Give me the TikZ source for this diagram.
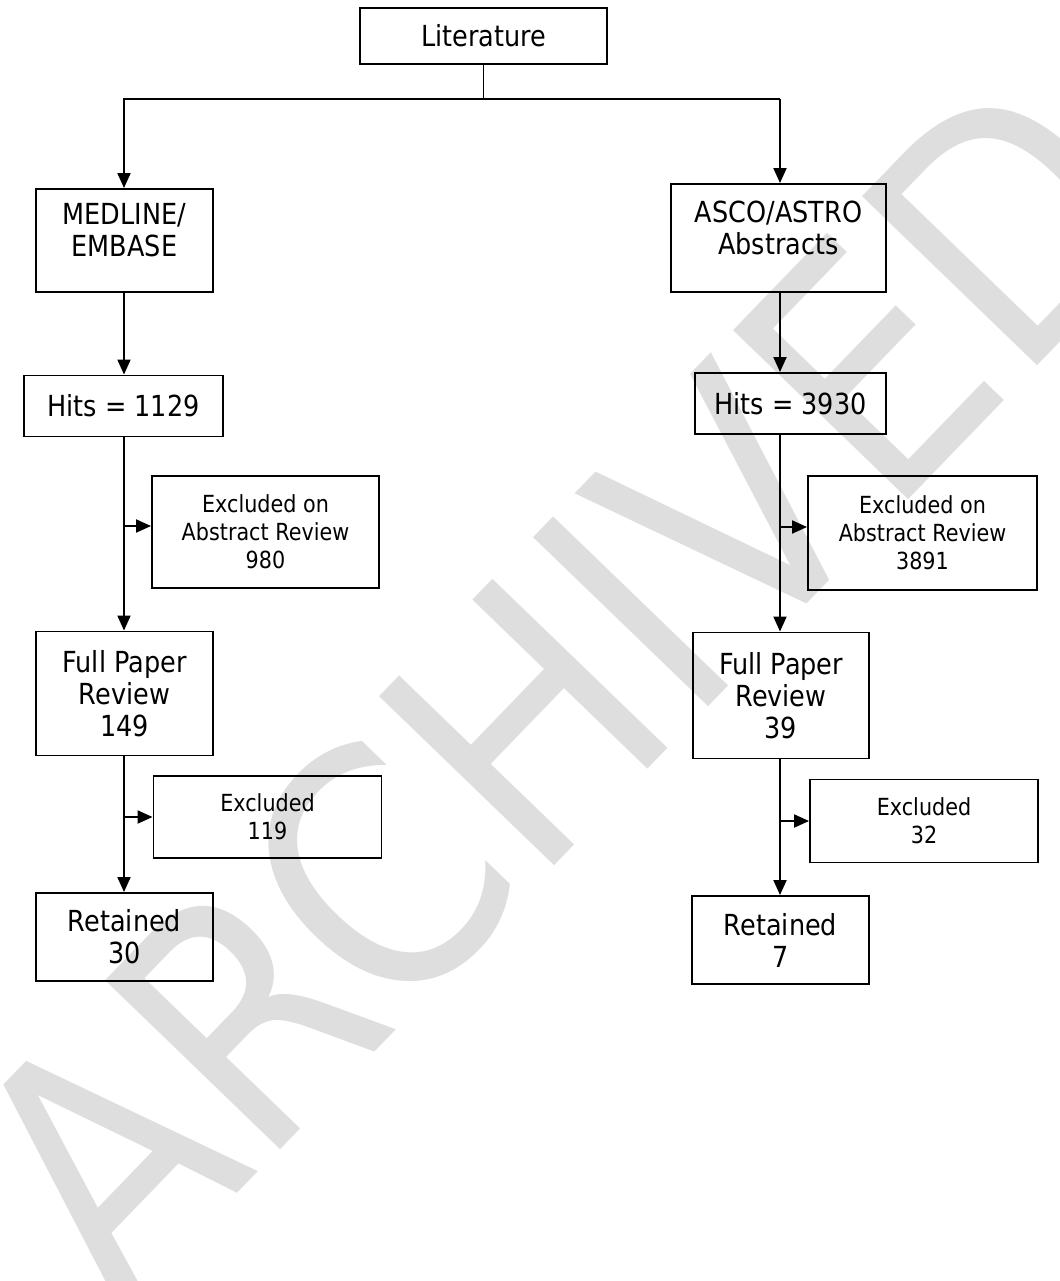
\documentclass[tikz,border=0pt]{standalone}
\usepackage{fontspec}
\setmainfont[FakeStretch=0.88]{DejaVu Sans}
\usepackage{tikz}
\usetikzlibrary{arrows.meta, positioning, calc}
\definecolor{grisMarca}{RGB}{222, 222, 222}

\begin{document}
\begin{tikzpicture}[
            texto/.style={align=center, font=\fontsize{16.5}{18.2}\selectfont},
            caja/.style={texto, rectangle, draw=black, line width=1.1pt, inner sep=0pt, minimum width=3.54cm},
            excl/.style={caja, minimum width=4.56cm, font=\fontsize{13.4}{15.9}\selectfont},
            flecha/.style={-{Triangle[length=0.3cm, width=0.26cm]}, line width=1.1pt}]

    \useasboundingbox (0,0) rectangle (21.2,-25.62);
    \clip (0,0) rectangle (21.2,-25.62);
    \node[rotate=46, text=grisMarca, font=\fontsize{190}{190}\selectfont] (marca) at (11.2,-13.7) {ARCHIVED};

    \node[caja, minimum width=4.94cm, minimum height=1.12cm] (lit) at (9.67,-0.72) {Literature};
    \node[caja, minimum height=2.06cm] (med) at (2.49,-4.81) {};
    \node[texto] (medtxt) at ([yshift=0.2cm]med.center) {MEDLINE/\\EMBASE};
    \node[caja, minimum width=4.30cm, minimum height=2.16cm] (asco) at (15.57,-4.76) {};
    \node[texto] (ascotxt) at ([yshift=0.2cm]asco.center) {ASCO/ASTRO\\Abstracts};
    \node[caja, minimum width=3.98cm, minimum height=1.22cm] (hitsA) at (2.47,-8.12) {Hits = 1129};
    \node[caja, minimum width=3.82cm, minimum height=1.22cm] (hitsB) at (15.81,-8.07) {Hits = 3930};
    \node[excl, minimum width=4.54cm, minimum height=2.24cm] (exA1) at (5.31,-10.64) {Excluded on\\Abstract Review\\980};
    \node[excl, minimum width=4.58cm, minimum height=2.28cm] (exB1) at (18.45,-10.66) {Excluded on\\Abstract Review\\3891};
    \node[caja, minimum height=2.48cm] (fullA) at (2.49,-13.87) {Full Paper\\Review\\149};
    \node[caja, minimum width=3.52cm, minimum height=2.52cm] (fullB) at (15.62,-13.91) {Full Paper\\Review\\39};
    \node[excl, minimum height=1.64cm] (exA2) at (5.35,-16.34) {Excluded\\119};
    \node[excl, minimum height=1.66cm] (exB2) at (18.48,-16.42) {Excluded\\32};
    \node[caja, minimum height=1.76cm] (retA) at (2.49,-18.74) {Retained\\30};
    \node[caja, minimum height=1.76cm] (retB) at (15.61,-18.80) {Retained\\7};

    \coordinate (izq) at (2.48,-1.98);
    \coordinate (der) at (15.60,-1.98);
    \coordinate (sA1) at ([yshift=0.12cm]exA1.west);
    \coordinate (sB1) at ([yshift=0.12cm]exB1.west);

    \draw[line width=1.1pt] (lit.south) -- (lit.south |- izq);
    \draw[flecha] (der) -- (izq) -- (izq |- med.north);
    \draw[flecha] (der) -- (der |- asco.north);
    \draw[flecha] (izq |- med.south) -- (izq |- hitsA.north);
    \draw[flecha] (der |- asco.south) -- (der |- hitsB.north);
    \draw[flecha] (izq |- hitsA.south) -- (izq |- fullA.north);
    \draw[flecha] (der |- hitsB.south) -- (der |- fullB.north);
    \draw[flecha] (izq |- fullA.south) -- (izq |- retA.north);
    \draw[flecha] (der |- fullB.south) -- (der |- retB.north);
    \draw[flecha] (izq |- sA1) -- (sA1);
    \draw[flecha] (der |- sB1) -- (sB1);
    \draw[flecha] (izq |- exA2.west) -- (exA2.west);
    \draw[flecha] (der |- exB2.west) -- (exB2.west);
\end{tikzpicture}
\end{document}
